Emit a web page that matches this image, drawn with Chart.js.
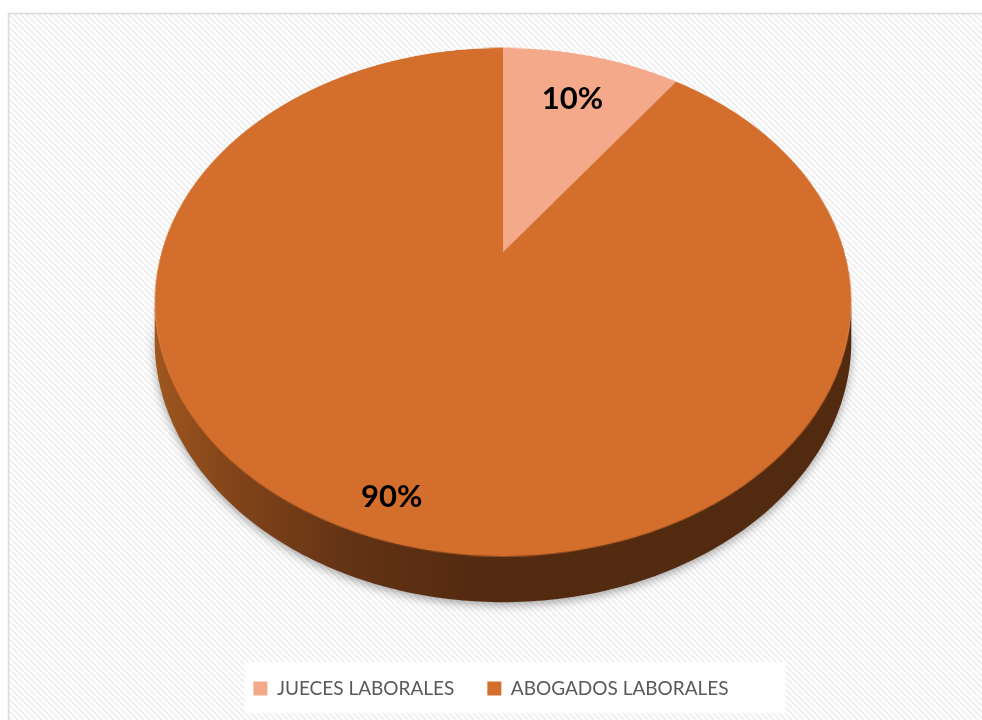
<!DOCTYPE html>
<html>
<head>
<meta charset="utf-8">
<script src="https://cdn.jsdelivr.net/npm/chart.js@4/dist/chart.umd.min.js"></script>
<style>
  html, body { margin: 0; padding: 0; background: #ffffff; }
  #wrap { width: 982px; height: 720px; position: relative; }
</style>
</head>
<body>
<div id="wrap"><canvas id="c" width="982" height="720"></canvas></div>
<script>
// ---- data ----
const categories = ['JUECES LABORALES', 'ABOGADOS LABORALES'];
const values = [10, 90];
const sliceColors = ['#F4A98A', '#D36E2C'];

// ---- view (3-D tilt) settings ----
const VIEW = { X0: 503, Y0: 252, A: 341.5, B: 244.2, k: -0.197, depth: 37 };
function project(u, v) {
  const d = 1 + VIEW.k * v;
  return { x: VIEW.X0 + VIEW.A * u / d, y: VIEW.Y0 + VIEW.B * v / d };
}

function makeHatch(ctx) {
  const t = document.createElement('canvas');
  t.width = 6; t.height = 6;
  const g = t.getContext('2d');
  g.fillStyle = '#ffffff';
  g.fillRect(0, 0, 6, 6);
  g.strokeStyle = '#efefef';
  g.lineWidth = 2;
  for (let o = -12; o <= 12; o += 6) {
    g.beginPath();
    g.moveTo(o, 0);
    g.lineTo(o + 6, 6);
    g.stroke();
  }
  return ctx.createPattern(t, 'repeat');
}

const backgroundPlugin = {
  id: 'bgFrame',
  beforeDraw(chart) {
    const ctx = chart.ctx;
    const W = chart.width, H = chart.height;
    ctx.save();
    ctx.fillStyle = '#ffffff';
    ctx.fillRect(0, 0, W, H);
    ctx.fillStyle = makeHatch(ctx);
    ctx.fillRect(9, 14, W, H);
    ctx.strokeStyle = '#d9d9d9';
    ctx.lineWidth = 1.5;
    ctx.strokeRect(8.5, 13.5, W + 10, H + 10);
    // legend backdrop
    const boxes = chart.legend && chart.legend.legendHitBoxes;
    if (boxes && boxes.length) {
      let l = Infinity, r = -Infinity, t = Infinity, b = -Infinity;
      boxes.forEach(h => {
        l = Math.min(l, h.left); r = Math.max(r, h.left + h.width);
        t = Math.min(t, h.top); b = Math.max(b, h.top + h.height);
      });
      ctx.fillStyle = 'rgba(255,255,255,0.85)';
      ctx.fillRect(l - 9, t - 17, (r - l) + 66, (b - t) + 32);
    }
    ctx.restore();
  }
};

let bgSnap = null;
const tiltPlugin = {
  id: 'tilt3d',
  beforeDatasetsDraw(chart) {
    const c = chart.canvas;
    bgSnap = document.createElement('canvas');
    bgSnap.width = c.width; bgSnap.height = c.height;
    bgSnap.getContext('2d').drawImage(c, 0, 0);
    chart.ctx.save();
    chart.ctx.setTransform(1, 0, 0, 1, 0, 0);
    chart.ctx.clearRect(0, 0, c.width, c.height);
    chart.ctx.restore();
  },
  afterDatasetsDraw(chart, args, opts) {
    const c = chart.canvas;
    const ctx = chart.ctx;
    const pie = document.createElement('canvas');
    pie.width = c.width; pie.height = c.height;
    pie.getContext('2d').drawImage(c, 0, 0);

    ctx.save();
    ctx.setTransform(1, 0, 0, 1, 0, 0);
    ctx.clearRect(0, 0, c.width, c.height);
    ctx.drawImage(bgSnap, 0, 0);

    const meta = chart.getDatasetMeta(0);
    const a0 = meta.data[0];
    const cx = a0.x, cy = a0.y, R = a0.outerRadius;

    // side wall
    const phi0 = Math.asin(-VIEW.k);
    const N = 200;
    const top = [], bot = [];
    for (let i = 0; i <= N; i++) {
      const phi = phi0 + (Math.PI - 2 * phi0) * i / N;
      const u = Math.cos(phi), v = Math.sin(phi);
      const p = project(u, v);
      top.push(p);
      bot.push({ x: p.x, y: p.y + VIEW.depth / (1 + VIEW.k * v) });
    }
    ctx.beginPath();
    ctx.moveTo(top[0].x, top[0].y - 2);
    top.forEach(p => ctx.lineTo(p.x, p.y - 2));
    for (let i = bot.length - 1; i >= 0; i--) ctx.lineTo(bot[i].x, bot[i].y);
    ctx.closePath();
    const lx = VIEW.X0 - 350, rx = VIEW.X0 + 350;
    const grad = ctx.createLinearGradient(lx, 0, rx, 0);
    grad.addColorStop(0, '#a0571f');
    grad.addColorStop(0.1, '#85461a');
    grad.addColorStop(0.28, '#633315');
    grad.addColorStop(0.45, '#542b11');
    grad.addColorStop(1, '#512a10');
    ctx.shadowColor = 'rgba(0,0,0,0.35)';
    ctx.shadowBlur = 10;
    ctx.shadowOffsetY = 3;
    ctx.fillStyle = grad;
    ctx.fill();
    ctx.shadowColor = 'rgba(0,0,0,0)';
    ctx.shadowBlur = 0;
    ctx.shadowOffsetY = 0;

    // top face: warp the library-drawn circular pie row by row
    ctx.imageSmoothingEnabled = true;
    const yTop = Math.floor(project(0, -1).y), yBot = Math.ceil(project(0, 1).y);
    const vOf = y => (y - VIEW.Y0) / (VIEW.B - VIEW.k * (y - VIEW.Y0));
    for (let y = yTop; y < yBot; y++) {
      let v1 = vOf(y), v2 = vOf(y + 1);
      v1 = Math.max(-1, v1); v2 = Math.min(1, v2);
      if (v2 <= v1) continue;
      const vm = (v1 + v2) / 2;
      const hw = VIEW.A / (1 + VIEW.k * vm);
      const sy = cy + R * v1, sh = R * (v2 - v1);
      ctx.drawImage(pie, cx - R, sy, 2 * R, sh, VIEW.X0 - hw, y, 2 * hw, 1.0);
    }

    // percentage labels
    const total = values.reduce((s, x) => s + x, 0);
    ctx.fillStyle = '#000000';
    ctx.font = 'bold 31px Lato, "Open Sans", sans-serif';
    ctx.textAlign = 'center';
    ctx.textBaseline = 'middle';
    meta.data.forEach((arc, i) => {
      const mid = (arc.startAngle + arc.endAngle) / 2;
      const r = opts.labelRadius[i];
      const p = project(r * Math.cos(mid), r * Math.sin(mid));
      ctx.fillText(Math.round(values[i] / total * 100) + '%', p.x, p.y);
    });
    ctx.restore();
  }
};

new Chart(document.getElementById('c'), {
  type: 'pie',
  data: {
    labels: categories,
    datasets: [{
      data: values,
      backgroundColor: sliceColors,
      borderWidth: 0
    }]
  },
  options: {
    responsive: false,
    animation: false,
    devicePixelRatio: 1,
    layout: { padding: { top: 20, left: 150, right: 150, bottom: 12 } },
    plugins: {
      tooltip: { enabled: false },
      legend: {
        position: 'bottom',
        labels: {
          font: { family: 'Lato, "Open Sans", sans-serif', size: 19 },
          color: '#595959',
          boxWidth: 14,
          boxHeight: 14,
          padding: 33
        }
      },
      tilt3d: { labelRadius: [0.75, 0.88] }
    }
  },
  plugins: [backgroundPlugin, tiltPlugin]
});
</script>
</body>
</html>
